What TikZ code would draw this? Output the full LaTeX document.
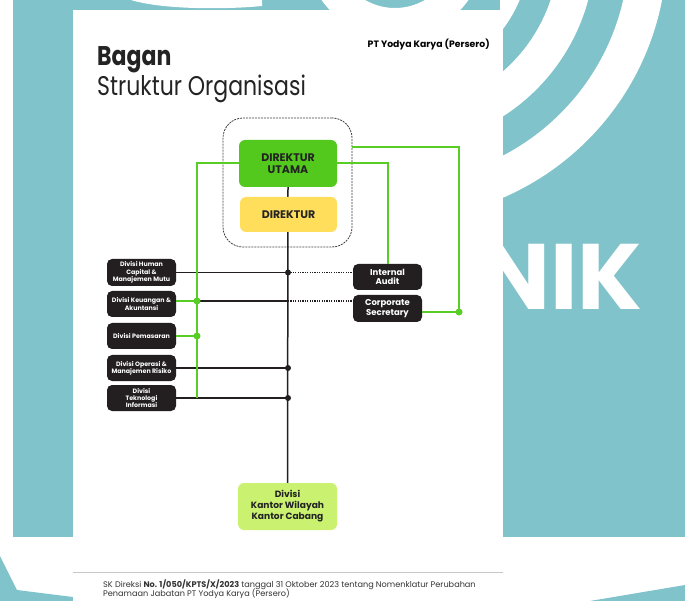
\documentclass[tikz,border=0pt]{standalone}
\usepackage{fontspec}
\setmainfont{Poppins}
\newfontfamily\titlefont{Poppins}[FakeStretch=0.815]
\usetikzlibrary{calc}
\definecolor{teal0}{RGB}{128,195,202}
\definecolor{boxdark}{RGB}{35,31,32}
\definecolor{grn}{RGB}{82,201,28}
\definecolor{grnline}{RGB}{88,205,38}
\definecolor{yel}{RGB}{255,222,92}
\definecolor{lime}{RGB}{202,242,112}
\definecolor{txtdark}{RGB}{35,35,35}
\begin{document}
\begin{tikzpicture}[x=1pt,y=-1pt,
  darkbox/.style={fill=boxdark, rounded corners=5pt, text=white,
    font=\bfseries\fontsize{6.3}{7.3}\selectfont, align=center,
    minimum width=69pt, minimum height=26pt, inner sep=0pt},
  rbox/.style={darkbox, font=\bfseries\fontsize{8.5}{9.3}\selectfont},
  colbox/.style={rounded corners=6pt, text=txtdark, align=center, inner sep=0pt,
    font=\bfseries\fontsize{11}{11.7}\selectfont},
  bline/.style={draw=boxdark, line width=1.5pt},
  gline/.style={draw=grnline, line width=2pt},
  dline/.style={draw=boxdark, line width=1.3pt, dash pattern=on 1.2pt off 1.2pt},
  bdot/.style={fill=boxdark},
  gdot/.style={fill=grnline}]
\useasboundingbox (0,0) rectangle (685,601);
% background
\fill[white] (0,0) rectangle (685,601);
\fill[teal0] (13,0) rectangle (685,537);
\begin{scope}
  \clip (13,0) rectangle (685,537);
  \fill[white, even odd rule] (395,-52) circle (90) (395,-52) circle (60);
  \begin{scope}
    \clip (500,-60) rectangle (685,537);
    \fill[white, even odd rule] (395,-52) circle (272) (395,-52) circle (234);
    \fill[white, even odd rule] (395,-52) circle (200) (395,-52) circle (164);
    \fill[white, even odd rule] (395,-52) circle (135) (395,-52) circle (98);
  \end{scope}
  \fill[white] (131,0) .. controls (160,9) and (220,10) .. (262,6) -- (262,0) -- cycle;
  \node[text=white, font=\bfseries\fontsize{93}{93}\selectfont, anchor=base east, inner sep=0pt] (nik) at (643,310) {NIK};
\end{scope}
\fill[teal0] (0,556) -- (17,590) -- (73,597) -- (73,601) -- (0,601) -- cycle;
\fill[teal0] (590,601) -- (685,585) -- (685,601) -- cycle;
% page
\fill[white] (73,9.6) rectangle (503,601);
\draw[black!22, line width=0.8pt] (73,572) -- (503,572);
% titles
\node[anchor=base west, inner sep=0pt, text=txtdark, font=\titlefont\bfseries\fontsize{27}{27}\selectfont] (bagan) at (97,66) {Bagan};
\node[anchor=base west, inner sep=0pt, text=txtdark, font=\titlefont\fontsize{27}{27}\selectfont] (struk) at (97,96) {Struktur Organisasi};
\node[anchor=base east, inner sep=0pt, text=black, font=\bfseries\fontsize{9.3}{9.3}\selectfont] (pt) at (490,48) {PT Yodya Karya (Persero)};
\node[anchor=base west, inner sep=0pt, text=black!80, font=\fontsize{8.15}{9}\selectfont] (f1) at (103,587) {SK Direksi \textbf{No. 1/050/KPTS/X/2023} tanggal 31 Oktober 2023 tentang Nomenklatur Perubahan};
\node[anchor=base west, inner sep=0pt, text=black!80, font=\fontsize{8.15}{9}\selectfont] (f2) at (103,596) {Penamaan Jabatan PT Yodya Karya (Persero)};
% top group
\node[draw=black!75, line width=0.8pt, dash pattern=on 2pt off 1pt, rounded corners=20pt, minimum width=129pt, minimum height=129pt, inner sep=0pt] (topbox) at (287.5,182.5) {};
\node[colbox, fill=grn, minimum width=98pt, minimum height=47pt] (du) at (288,163.5) {DIREKTUR\\UTAMA};
\node[colbox, fill=lime, minimum width=99pt, minimum height=47pt, font=\bfseries\fontsize{9.1}{11}\selectfont] (kc) at (287.5,506.5) {Divisi\\Kantor Wilayah\\Kantor Cabang};
% left divisions
\node[darkbox, minimum height=27pt] (hc) at (141.5,272.5) {Divisi Human\\Capital \&\\Manajemen Mutu};
\node[darkbox] (keu) at (141.5,304) {Divisi Keuangan \&\\Akuntansi};
\node[darkbox] (pem) at (141.5,336) {Divisi Pemasaran};
\node[darkbox] (ops) at (141.5,368) {Divisi Operasi \&\\Manajemen Risiko};
\node[darkbox] (tek) at (141.5,398) {Divisi\\Teknologi\\Informasi};
% right units
\node[rbox] (ia) at (387.5,277) {Internal\\Audit};
\node[rbox, minimum height=27pt] (cs) at (387.5,308.5) {Corporate\\Secretary};
% helper coordinates
\coordinate (gx) at (197,0);
\coordinate (gc) at (459,147);
\coordinate (gd) at (459,312);
\coordinate (kk) at ([yshift=3pt]keu.east);
% black connectors
\draw[bline] (du.south) -- (kc.north);
\draw[bline] (hc.east) -- (hc.east -| du.south);
\draw[bline] (kk -| gx) -- (kk -| du.south);
\draw[bline] (ops.east) -- (ops.east -| du.south);
\draw[bline] (tek.east) -- (tek.east -| du.south);
\draw[dline] (hc.east -| du.south) -- (hc.east -| ia.west);
\draw[dline] (kk -| du.south) -- (kk -| cs.west);
% green connectors
\draw[gline] (du.west) -- (du.west -| gx) -- (tek.east -| gx);
\draw[gline] (du.east) -- (du.east -| ia.north) -- (ia.north);
\draw[gline] (gc -| topbox.east) -- (gc) -- (gd) -- (gd -| cs.east);
\draw[gline] (kk) -- (kk -| gx);
\draw[gline] (pem.east) -- (pem.east -| gx);
% direktur on top of line
\node[colbox, fill=yel, minimum width=97pt, minimum height=35pt] (dir) at (288.5,214.5) {DIREKTUR};
% dots
\fill[bdot] (hc.east -| du.south) circle (3);
\fill[bdot] (ops.east -| du.south) circle (3);
\fill[bdot] (tek.east -| du.south) circle (3);
\fill[gdot] (kk -| gx) circle (3.5);
\fill[gdot] (pem.east -| gx) circle (3.5);
\fill[gdot] (gd) circle (3.5);
\end{tikzpicture}
\end{document}
